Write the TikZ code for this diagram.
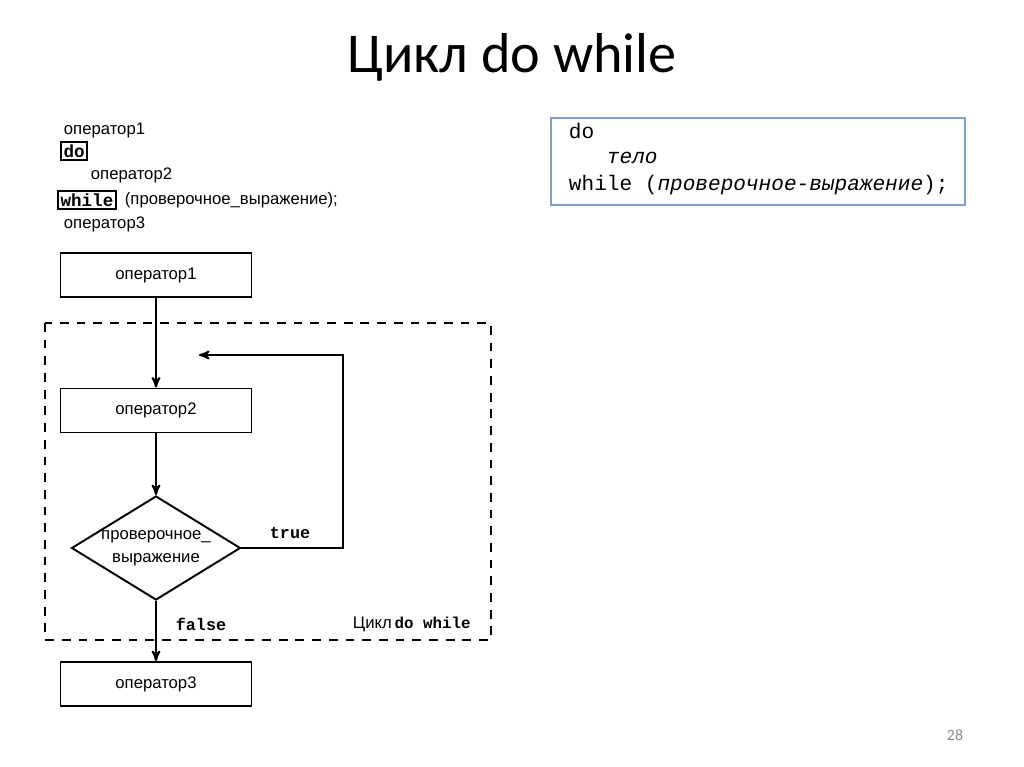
\documentclass[tikz,border=0pt]{standalone}
\usepackage{fontspec}
\setmainfont{Liberation Sans}
\setmonofont{Liberation Mono}
\newfontfamily\slidefont{Carlito}
\usepackage{tikz}
\usetikzlibrary{calc,shapes,arrows,positioning}
\definecolor{codeframe}{RGB}{127,160,205}
\definecolor{pagegray}{RGB}{140,140,140}
\tikzset{
   operator/.style={draw, -, minimum width=3.82cm, minimum height=0.88cm,
                    inner sep=0pt, font=\fontsize{9.5}{11}\selectfont},
   check/.style={draw, -, diamond, aspect=1.625, minimum width=3.38cm, minimum height=2.08cm,
                 inner sep=0pt, align=center, font=\fontsize{9.5}{13}\selectfont},
   keybox/.style={draw, -, inner sep=1.5pt, font=\fontsize{10}{12}\selectfont\ttfamily\bfseries},
   listing/.style={inner sep=0pt, anchor=west, font=\fontsize{9.5}{11}\selectfont},
   codeline/.style={inner sep=0pt, anchor=west, font=\fontsize{12}{14}\selectfont\ttfamily}
}

\begin{document}
\begin{tikzpicture}[x=0.02cm, y=-0.02cm,
                    ->,>=stealth', line width=1.1pt,
                    label/.style={inner sep=0pt, font=\fontsize{9.5}{12}\selectfont\ttfamily\bfseries}]
\useasboundingbox[fill=white] (0,0) rectangle (1024,767);
%
\node[inner sep=0pt, anchor=base, font=\fontsize{32}{38}\selectfont\slidefont] (title) at (512, 72) {Цикл do while};
\node[inner sep=0pt, text=pagegray, font=\fontsize{9}{11}\selectfont\slidefont] (page) at (955, 735) {28};
%
% listing on the left
\node[listing] (l1) at (63, 130) {оператор1};
\node[keybox, anchor=west] (l2) at (60, 151) {do};
\node[listing] (l3) at (90, 175) {оператор2};
\node[keybox, anchor=west] (l4) at (57, 200) {while};
\node[listing, right=4pt of l4] (l5) {(проверочное\_выражение);};
\node[listing] (l6) at (63, 224) {оператор3};
%
% general form
\node[draw=codeframe, -, line width=0.8pt, minimum width=8.28cm, minimum height=1.74cm] (code) at (758, 161.5) {};
\node[codeline] (c1) at (568, 131) {do};
\node[codeline] (c2) at (606, 158) {\itshape тело};
\node[codeline] (c3) at (568, 185) {while (\textit{проверочное-выражение});};
%
% flowchart
\draw[-, dashed, dash pattern=on 5pt off 4.5pt] (45, 323) rectangle (491, 640);
\node[operator] (1) at (156, 275) {оператор1};
\node[operator] (2) at (156, 410.5) {оператор2};
\node[check]    (3) at (156, 548) {проверочное\_\\выражение};
\node[operator] (4) at (156, 684) {оператор3};
\coordinate (back) at (199, 355);
%
\path
  (1) edge (2)
  (2) edge (3)
  (3) edge (4)
  ;
\draw (3.east) -| (343, 355) -- (back);
%
\node[label] (t) at (290, 533) {true};
\node[label, anchor=west] (f) at (175, 624) {false};
\node[inner sep=0pt, anchor=west, font=\fontsize{9.5}{11}\selectfont] (loop) at (352, 624)
  {Цикл\,{\fontsize{9}{11}\selectfont\ttfamily\bfseries do while}};
\end{tikzpicture}
\end{document}
